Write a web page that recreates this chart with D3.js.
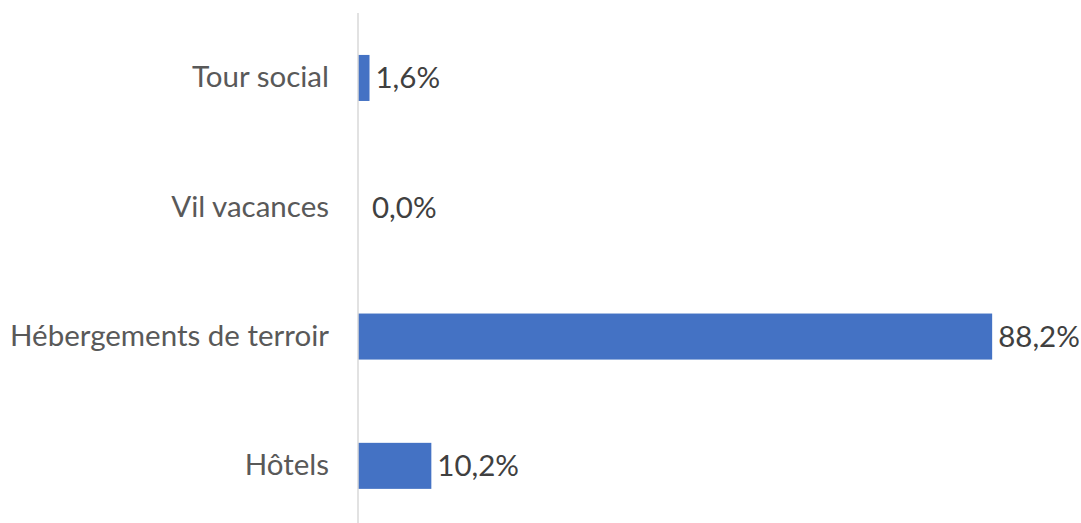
<!DOCTYPE html>
<html>
<head>
<meta charset="utf-8">
<script src="https://cdn.jsdelivr.net/npm/d3@7"></script>
<style>
  html, body { margin: 0; padding: 0; background: #fff; }
  svg { display: block; }
  text { font-family: Lato, "Open Sans", sans-serif; }
</style>
</head>
<body>
<svg id="chart" width="1081" height="523"></svg>
<script>
const categories = ["Tour social", "Vil vacances", "Hébergements de terroir", "Hôtels"];
const values = [1.6, 0.0, 88.2, 10.2];
const valueLabels = ["1,6%", "0,0%", "88,2%", "10,2%"];

const svg = d3.select("#chart");
const x = d3.scaleLinear().domain([0, 100]).range([358, 1077]);
const y = d3.scaleBand().domain(categories).range([13.3, 530.5]).paddingInner(0.644).paddingOuter(0.322);

// bars
svg.append("g").selectAll("rect")
  .data(categories)
  .join("rect")
  .attr("x", x(0))
  .attr("y", d => y(d))
  .attr("width", (d, i) => x(values[i]) - x(0))
  .attr("height", y.bandwidth())
  .attr("fill", "#4472C4");

// axis line
const yAxis = d3.axisLeft(y).tickSize(0).tickPadding(29);
const g = svg.append("g").attr("transform", `translate(${x(0)},0)`).call(yAxis);
g.select(".domain").attr("stroke", "#d9d9d9").attr("stroke-width", 1.5).attr("d", "M0,13V523");
g.selectAll(".tick text")
  .attr("fill", "#595959")
  .style("font-size", "29.5px")
  .style("font-family", "Lato, 'Open Sans', sans-serif");

// value labels
svg.append("g").selectAll("text")
  .data(categories)
  .join("text")
  .attr("x", (d, i) => x(values[i]) + (values[i] === 0 ? 14 : 6))
  .attr("y", d => y(d) + y.bandwidth() / 2)
  .attr("dy", "0.35em")
  .attr("fill", "#404040")
  .style("font-size", "29.5px")
  .text((d, i) => valueLabels[i]);
</script>
</body>
</html>
